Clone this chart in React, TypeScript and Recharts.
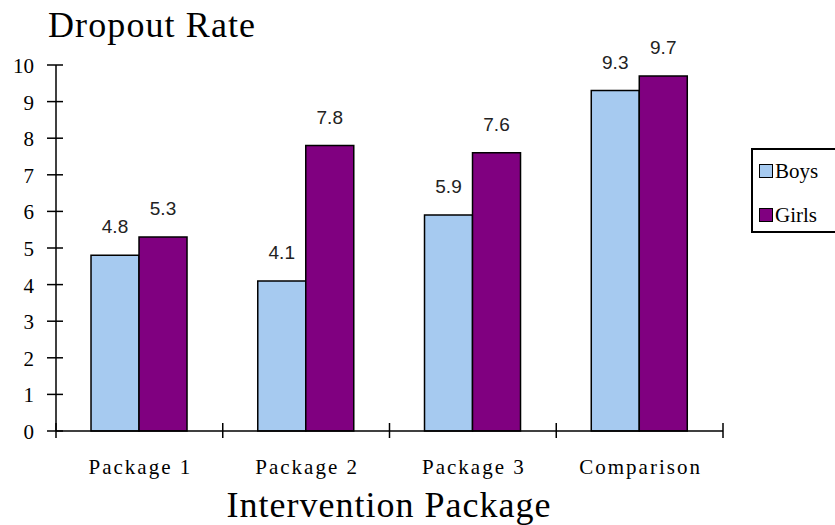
import React from 'react'
import { BarChart, Bar, XAxis, YAxis, Legend, LabelList } from 'recharts'

const categories = ['Package 1', 'Package 2', 'Package 3', 'Comparison']
const boys = [4.8, 4.1, 5.9, 9.3]
const girls = [5.3, 7.8, 7.6, 9.7]
const yTicks = [0, 1, 2, 3, 4, 5, 6, 7, 8, 9, 10]

const data = categories.map((name, i) => ({ name, boys: boys[i], girls: girls[i] }))

const W = 835
const H = 525
const M = { top: 65, right: 112, left: 0, bottom: 0 }
const Y_W = 56
const PLOT_W = W - M.left - M.right - Y_W
const BAND = PLOT_W / categories.length

const SERIF = '"Liberation Serif", "Times New Roman", serif'
const SANS = '"Liberation Sans", Arial, sans-serif'
const BOYS = '#A6CAF0'
const GIRLS = '#800080'

function YTick({ x, y, payload }: any) {
  return (
    <g>
      <line x1={x - 9} x2={x + 7} y1={y} y2={y} stroke="#000" strokeWidth={1.5} />
      <text x={x - 22} y={y + 8} textAnchor="end" fontFamily={SERIF} fontSize={21} fill="#000">
        {payload.value}
      </text>
    </g>
  )
}

function XTick({ x, y, payload, index }: any) {
  const left = x - BAND / 2
  return (
    <g>
      <line x1={left} x2={left} y1={y - 8} y2={y + 7} stroke="#000" strokeWidth={1.5} />
      {index === categories.length - 1 && (
        <line x1={x + BAND / 2} x2={x + BAND / 2} y1={y - 8} y2={y + 7} stroke="#000" strokeWidth={1.5} />
      )}
      <text x={x + 1} y={y + 43} textAnchor="middle" fontFamily={SERIF} fontSize={21} letterSpacing={2} fill="#000">
        {payload.value}
      </text>
    </g>
  )
}

function LegendBox() {
  const items = [
    { label: 'Boys', color: BOYS },
    { label: 'Girls', color: GIRLS },
  ]
  return (
    <div style={{ width: 100, height: 85, border: '2px solid #000', boxSizing: 'border-box', background: '#fff', paddingTop: 10 }}>
      {items.map((it, i) => (
        <div key={it.label} style={{ display: 'flex', alignItems: 'center', height: 22, marginBottom: i === 0 ? 22 : 0, paddingLeft: 6 }}>
          <span style={{ width: 12, height: 12, background: it.color, border: '1.5px solid #000', display: 'inline-block', marginRight: 2 }} />
          <span style={{ fontFamily: SERIF, fontSize: 21, color: '#000', lineHeight: 1 }}>{it.label}</span>
        </div>
      ))}
    </div>
  )
}

export default function App() {
  return (
    <div style={{ position: 'absolute', left: 0, top: 0, width: W, height: H, background: '#fff', overflow: 'hidden' }}>
      <div style={{ position: 'absolute', left: 48, top: 7, fontFamily: SERIF, fontSize: 36, lineHeight: 1, letterSpacing: 1.1, color: '#000', whiteSpace: 'nowrap' }}>
        Dropout Rate
      </div>
      <BarChart width={W} height={H} data={data} margin={M} barCategoryGap="21%" barGap={0}>
        <YAxis
          width={Y_W}
          domain={[0, 10]}
          ticks={yTicks}
          interval={0}
          tickSize={0}
          tickMargin={0}
          tickLine={false}
          axisLine={{ stroke: '#000', strokeWidth: 1.5 }}
          tick={<YTick />}
        />
        <XAxis
          dataKey="name"
          height={H - M.top - M.bottom - 366}
          interval={0}
          tickSize={0}
          tickMargin={0}
          tickLine={false}
          axisLine={{ stroke: '#000', strokeWidth: 1.5 }}
          tick={<XTick />}
        />
        <Legend
          layout="horizontal"
          align="center"
          verticalAlign="middle"
          content={() => <LegendBox />}
          wrapperStyle={{ position: 'absolute', left: 751, top: 148, width: 100 }}
        />
        <Bar dataKey="boys" name="Boys" fill={BOYS} stroke="#000" strokeWidth={1.5} isAnimationActive={false}>
          <LabelList dataKey="boys" position="top" offset={22} fontFamily={SANS} fontSize={19} fill="#222" />
        </Bar>
        <Bar dataKey="girls" name="Girls" fill={GIRLS} stroke="#000" strokeWidth={1.5} isAnimationActive={false}>
          <LabelList dataKey="girls" position="top" offset={22} fontFamily={SANS} fontSize={19} fill="#222" />
        </Bar>
      </BarChart>
      <div style={{ position: 'absolute', left: 0, width: 778, top: 487, textAlign: 'center', fontFamily: SERIF, fontSize: 36, lineHeight: 1, letterSpacing: 1, color: '#000', whiteSpace: 'nowrap' }}>
        Intervention Package
      </div>
    </div>
  )
}
